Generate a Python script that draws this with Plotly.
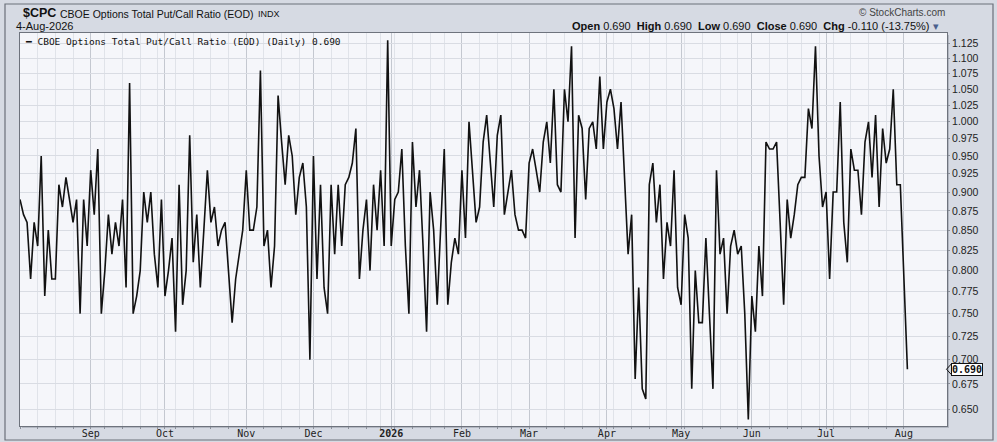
import plotly.graph_objects as go
import pandas as pd
import math

# ---------------- data ----------------
holidays = ["2025-09-01", "2025-11-27", "2025-12-25", "2026-01-01", "2026-01-19",
            "2026-02-16", "2026-04-03", "2026-05-25", "2026-06-19", "2026-07-03"]
dates = [d for d in pd.bdate_range("2025-08-04", "2026-08-04")
         if d.strftime("%Y-%m-%d") not in holidays]

values = [
    # Aug 2025 -> Oct
    0.89, 0.87, 0.86, 0.79, 0.86, 0.83, 0.95, 0.77, 0.85, 0.79,
    0.79, 0.91, 0.88, 0.92, 0.89, 0.86, 0.89, 0.75, 0.89, 0.83,
    0.93, 0.87, 0.96, 0.75, 0.80, 0.87, 0.82, 0.86, 0.83, 0.89,
    0.78, 1.06, 0.75, 0.77, 0.80, 0.90, 0.86, 0.90, 0.82, 0.78,
    0.89, 0.77, 0.80, 0.84, 0.73, 0.91, 0.76, 0.80, 0.98, 0.81,
    0.87, 0.78, 0.85, 0.93, 0.86, 0.88, 0.83, 0.85, 0.86, 0.80,
    0.74, 0.79, 0.82, 0.85, 0.93, 0.85,
    # Nov -> Jan
    0.85, 0.88, 1.08, 0.83, 0.85, 0.78, 0.83, 1.04, 0.97, 0.91,
    0.98, 0.95, 0.87, 0.92, 0.94, 0.88, 0.70, 0.95, 0.79, 0.91,
    0.78, 0.75, 0.91, 0.82, 0.91, 0.83, 0.91, 0.92, 0.94, 0.99,
    0.79, 0.85, 0.89, 0.80, 0.91, 0.85, 0.93, 0.83, 1.13, 0.83,
    0.89, 0.90, 0.96, 0.83, 0.75, 0.97, 0.88, 0.93, 0.83, 0.73,
    0.90, 0.85, 0.76, 0.85, 0.96, 0.76, 0.81, 0.84, 0.82, 0.93,
    0.84, 1.00, 0.93, 0.86, 0.88, 0.97, 1.01, 0.94, 0.88, 0.98,
    1.01,
    # Feb -> May
    0.87, 0.90, 0.93, 0.87, 0.85, 0.85, 0.84, 0.94, 0.96, 0.93,
    0.90, 0.97, 1.00, 0.94, 1.05, 0.91, 0.90, 1.05, 1.00, 1.12,
    0.84, 1.01, 0.99, 0.89, 0.99, 1.00, 0.96, 1.07, 0.96, 1.03,
    1.05, 1.02, 0.96, 1.03, 0.92, 0.82, 0.87, 0.68, 0.78, 0.67,
    0.66, 0.91, 0.94, 0.86, 0.91, 0.79, 0.86, 0.83, 0.93, 0.78,
    0.76, 0.87, 0.84, 0.67, 0.80, 0.74, 0.74, 0.84, 0.75, 0.67,
    0.93, 0.82, 0.84, 0.75, 0.83, 0.85, 0.82, 0.83, 0.75, 0.64,
    # Jun -> Aug 2026
    0.77, 0.73, 0.83, 0.77, 0.97, 0.96, 0.96, 0.97, 0.86, 0.76,
    0.89, 0.84, 0.87, 0.91, 0.92, 0.92, 1.02, 0.99, 1.12, 0.95,
    0.88, 0.90, 0.79, 0.90, 0.90, 1.03, 0.86, 0.81, 0.96, 0.93,
    0.93, 0.87, 0.97, 1.00, 0.92, 1.01, 0.88, 0.99, 0.94, 0.96,
    1.05, 0.91, 0.91, 0.80, 0.69,
]

y_ticks = [0.650, 0.675, 0.700, 0.725, 0.750, 0.775, 0.800, 0.825, 0.850, 0.875,
           0.900, 0.925, 0.950, 0.975, 1.000, 1.025, 1.050, 1.075, 1.100, 1.125]
month_names = {1: "<b>2026</b>", 2: "Feb", 3: "Mar", 4: "Apr", 5: "May", 6: "Jun",
               7: "Jul", 8: "Aug", 9: "Sep", 10: "Oct", 11: "Nov", 12: "Dec"}

n = min(len(dates), len(values))
dates = dates[:n]
values = values[:n]
xi = list(range(n))

month_idx = [i for i in range(1, n) if dates[i].month != dates[i - 1].month]
month_txt = [month_names[dates[i].month] for i in month_idx]
week_idx = [i for i in range(0, n) if i == 0 or dates[i].isocalendar()[1] != dates[i - 1].isocalendar()[1]]

# ---------------- geometry ----------------
W, H = 997, 442
L, R, T, B = 20, 947, 33, 426
PW, PH = R - L, B - T


def px(x):
    return (x - L) / PW


def py(y):
    return (B - y) / PH


y_lo, y_hi = math.log10(0.6337), math.log10(1.1424)


def pv(v):
    return (math.log10(v) - y_lo) / (y_hi - y_lo)


fig = go.Figure()
fig.add_trace(go.Scatter(x=xi, y=values, mode="lines",
                         line=dict(color="#111111", width=1.6),
                         hoverinfo="skip", showlegend=False))

axis_font = dict(family="DejaVu Sans Mono", size=10, color="#222222")

fig.update_layout(
    template="none",
    width=W, height=H,
    margin=dict(l=L, r=W - R, t=T, b=H - B, pad=0, autoexpand=False),
    paper_bgcolor="#d6dae3",
    plot_bgcolor="#f5f6fa",
    xaxis=dict(
        automargin=False,
        range=[0, 262.2],
        tickmode="array", tickvals=month_idx, ticktext=month_txt,
        tickfont=axis_font,
        ticklabelstandoff=-4,
        showgrid=True, gridcolor="#c4c8d0", gridwidth=1,
        minor=dict(tickmode="array", tickvals=week_idx, showgrid=True,
                   gridcolor="#e0e3e9", gridwidth=1, ticks="outside",
                   ticklen=2, tickcolor="#8a8f99"),
        ticks="outside", ticklen=2, tickcolor="#8a8f99",
        showline=True, linecolor="#6e737d", linewidth=1, mirror=True,
        zeroline=False, fixedrange=True,
    ),
    yaxis=dict(
        automargin=False,
        type="log", side="right",
        range=[y_lo, y_hi],
        tickmode="array", tickvals=y_ticks,
        ticktext=[f"{v:.3f}" for v in y_ticks],
        tickfont=dict(family="Liberation Sans", size=10.5, color="#222222"),
        showgrid=True, gridcolor="#d9dce3", gridwidth=1,
        ticks="outside", ticklen=2, tickcolor="#8a8f99",
        showline=True, linecolor="#6e737d", linewidth=1, mirror=True,
        zeroline=False, fixedrange=True,
    ),
)

# outer frame
fig.add_shape(type="rect", xref="paper", yref="paper",
              x0=px(5), x1=px(993), y0=py(440), y1=py(4),
              line=dict(color="#6b707a", width=1.2), fillcolor="rgba(0,0,0,0)", layer="below")
# soft shadow of the plot frame
fig.add_shape(type="rect", xref="paper", yref="paper",
              x0=px(22), x1=px(949), y0=py(428), y1=py(426.5),
              line=dict(width=0), fillcolor="#b3b8c2", layer="below")
fig.add_shape(type="rect", xref="paper", yref="paper",
              x0=px(947.5), x1=px(949), y0=py(428), y1=py(35),
              line=dict(width=0), fillcolor="#b3b8c2", layer="below")

ann = []
# header left
ann.append(dict(x=px(21), y=py(13), xref="paper", yref="paper", xanchor="left", yanchor="middle",
                text="<b>$CPC</b>", showarrow=False,
                font=dict(family="Liberation Sans", size=12.5, color="#111111")))
ann.append(dict(x=px(58), y=py(14), xref="paper", yref="paper", xanchor="left", yanchor="middle",
                text="CBOE Options Total Put/Call Ratio (EOD)", showarrow=False,
                font=dict(family="Liberation Sans", size=10.5, color="#111111")))
ann.append(dict(x=px(256), y=py(14), xref="paper", yref="paper", xanchor="left", yanchor="middle",
                text="INDX", showarrow=False,
                font=dict(family="Liberation Sans", size=9, color="#111111")))
ann.append(dict(x=px(14), y=py(26), xref="paper", yref="paper", xanchor="left", yanchor="middle",
                text="4-Aug-2026", showarrow=False,
                font=dict(family="Liberation Sans", size=11, color="#111111")))
# header right
ann.append(dict(x=px(947), y=py(13), xref="paper", yref="paper", xanchor="right", yanchor="middle",
                text="© StockCharts.com", showarrow=False,
                font=dict(family="Liberation Sans", size=10, color="#444444")))
ann.append(dict(x=px(941), y=py(26), xref="paper", yref="paper", xanchor="right", yanchor="middle",
                text=("<b>Open</b> 0.690  <b>High</b> 0.690  <b>Low</b> 0.690  "
                      "<b>Close</b> 0.690  <b>Chg</b> -0.110 (-13.75%) <span style='color:#4a5f8c'>▾</span>"),
                showarrow=False,
                font=dict(family="Liberation Sans", size=11, color="#111111")))
# in-plot legend
ann.append(dict(x=px(23), y=py(41.5), xref="paper", yref="paper", xanchor="left", yanchor="middle",
                text="<b>━</b> CBOE Options Total Put/Call Ratio (EOD) (Daily) 0.690", showarrow=False,
                font=dict(family="DejaVu Sans Mono", size=9.5, color="#111111")))
# last value tag
ann.append(dict(x=px(951), y=pv(values[-1]), xref="paper", yref="paper",
                xanchor="left", yanchor="middle",
                text="<b>0.690</b>", showarrow=False,
                bgcolor="#ffffff", bordercolor="#111111", borderwidth=1, borderpad=0,
                font=dict(family="DejaVu Sans Mono", size=10, color="#111111")))
fig.update_layout(annotations=ann)

# arrow of the value tag
yv = pv(values[-1])
dy = 5.5 / PH
fig.add_shape(type="path", xref="paper", yref="paper",
              path=f"M {px(951.5)} {yv + dy} L {px(946.5)} {yv} L {px(951.5)} {yv - dy}",
              line=dict(color="#111111", width=1))

fig.write_html("out.html", config={"displayModeBar": False},
               post_script="document.body.style.margin='0';document.body.style.overflow='hidden';")
